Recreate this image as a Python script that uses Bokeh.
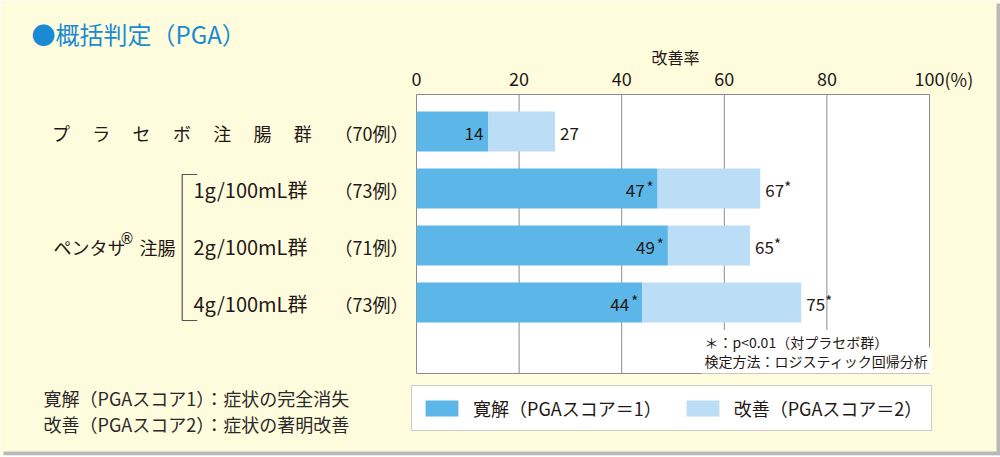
from bokeh.plotting import figure
from bokeh.models import ColumnDataSource, Range1d, Label, Legend, LegendItem
from bokeh.core.properties import value
from bokeh.embed import file_html
from bokeh.resources import INLINE

# ---------------- data ----------------
groups = ["プラセボ注腸群", "1g/100mL群", "2g/100mL群", "4g/100mL群"]
counts = ["（70例）", "（73例）", "（71例）", "（73例）"]
remission = [14, 47, 49, 44]        # 寛解 (PGA score = 1)
improvement = [27, 67, 65, 75]      # 改善 (PGA score <= 2), cumulative
significant = [False, True, True, True]
ticks = [0, 20, 40, 60, 80, 100]
tick_labels = ["0", "20", "40", "60", "80", "100"]
unit_label = "(%)"
series_names = ["寛解（PGAスコア＝1）", "改善（PGAスコア＝2）"]
drug_label = "ペンタサ"
drug_suffix = "注腸"
title_text = "●概括判定（PGA）"
axis_title = "改善率"
notes_in_plot = ["＊：p<0.01（対プラセボ群）", "検定方法：ロジスティック回帰分析"]
notes_left = ["寛解（PGAスコア1）：症状の完全消失", "改善（PGAスコア2）：症状の著明改善"]

# ---------------- style ----------------
FONT = "Noto Sans CJK JP"
BG = "#FFFCDD"
DARK = "#5DB6E8"
LIGHT = "#BBDDF5"
TEXT = "#231815"
TITLE_C = "#1A8BD3"
GRID = "#8c8c8c"
SHADOW = "#b9b9b9"
W, H = 1000, 457

# plotting box on screen: x 416..929 for 0..100, y 94..373 ; rows 57px apart
PX_PER_UNIT = (929 - 416) / 100.0
ROW_PX = 57.0
def X(sx):
    return (sx - 416) / PX_PER_UNIT
def Y(sy):
    return (sy - 131) / ROW_PX
BOX_TOP, BOX_BOTTOM = Y(94), Y(373)

rows = list(range(len(groups)))
src = ColumnDataSource(dict(
    row=rows,
    remission=remission,
    improvement=improvement,
    rem_label=[str(v) for v in remission],
    imp_label=[str(v) for v in improvement],
    star=["*" if s else "" for s in significant],
    rem_off=[-13 if s else -5 for s in significant],
))

p = figure(width=W, height=H, output_backend="svg", toolbar_location=None,
           x_range=Range1d(X(0), X(W)), y_range=Range1d(Y(H), Y(0)),
           x_axis_location=None, y_axis_location=None, min_border=0)
p.border_fill_color = BG
p.background_fill_color = BG
p.outline_line_color = None
p.xgrid.grid_line_color = None
p.ygrid.grid_line_color = None

# card shadow (right and bottom edges)
p.quad(left=[X(996), X(3)], right=[X(1000), X(1000)], top=[Y(3), Y(451)],
       bottom=[Y(455), Y(455)], fill_color=SHADOW, line_color=None)
p.quad(left=[X(0)], right=[X(1000)], top=[Y(455)], bottom=[Y(457)],
       fill_color="white", line_color=None)

# plotting box
p.quad(left=[ticks[0]], right=[ticks[-1]], top=[BOX_TOP], bottom=[BOX_BOTTOM],
       fill_color="white", line_color=GRID, line_width=1)
# vertical grid lines
inner = ticks[1:-1]
p.segment(x0=inner, x1=inner, y0=[BOX_TOP] * len(inner), y1=[BOX_BOTTOM] * len(inner),
          line_color=GRID, line_width=1)

# bars
r1 = p.hbar(y="row", left=0, right="remission", height=0.70, source=src,
            fill_color=DARK, line_color=None)
r2 = p.hbar(y="row", left="remission", right="improvement", height=0.70,
            source=src, fill_color=LIGHT, line_color=None)

common = dict(text_font=value(FONT), text_color=TEXT, text_baseline="middle", source=src)
p.text(x="remission", y="row", text="rem_label", x_offset="rem_off", y_offset=2,
       text_align="right", text_font_size="17px", **common)
p.text(x="remission", y="row", text="star", x_offset=-4, y_offset=-2,
       text_align="right", text_font_size="15px", **common)
p.text(x="improvement", y="row", text="imp_label", x_offset=5, y_offset=2,
       text_align="left", text_font_size="17px", **common)
p.text(x="improvement", y="row", text="star", x_offset=24, y_offset=-2,
       text_align="left", text_font_size="15px", **common)

# tick labels (top axis)
p.text(x=ticks, y=[Y(78.5)] * len(ticks), text=tick_labels, text_align="center",
       text_baseline="middle", text_font=value(FONT), text_font_size="18px",
       text_color=TEXT)

def lab(text, sx, sy, size, align="left", color=TEXT, bg=None, pad=0, font=FONT):
    p.add_layout(Label(x=X(sx), y=Y(sy), text=text, text_font=font,
                       text_font_size=f"{size}px", text_color=color,
                       text_align=align, text_baseline="middle",
                       background_fill_color=bg, padding=pad))

lab(unit_label, 944, 78.5, 18)
lab(axis_title, 675, 56.5, 16, align="center")
lab(title_text, 31, 33, 24, color=TITLE_C)

# row labels
row_sy = [131 + ROW_PX * i for i in rows]
for i, ch in enumerate(groups[0]):
    lab(ch, 60.5 + i * 40.3, row_sy[0] + 1, 18, align="center")
for i in rows[1:]:
    lab(groups[i], 193, row_sy[i] + 1, 20)
for i in rows:
    lab(counts[i], 408, row_sy[i] + 1, 18, align="right")

lab(drug_label, 53, 246, 18)
lab("®", 119, 238, 15, font="DejaVu Sans")
lab(drug_suffix, 139, 246, 18)

# bracket grouping the three doses
bx0, bx1, by0, by1 = X(181.7), X(196.7), Y(174), Y(320)
p.line(x=[bx1, bx0, bx0, bx1], y=[by0, by0, by1, by1], line_color="#555555",
       line_width=1.2)

# notes inside plot (second line first so the first stays on top)
lab(notes_in_plot[1], 701, 360, 14, bg="white", pad=3)
lab(notes_in_plot[0], 702, 341.5, 14, bg="white", pad=2)
# notes left
lab(notes_left[0], 43, 397.5, 18, color="#2a2a2a")
lab(notes_left[1], 43, 423, 18, color="#2a2a2a")

legend = Legend(items=[LegendItem(label=series_names[0], renderers=[r1]),
                       LegendItem(label=series_names[1], renderers=[r2])],
                orientation="horizontal", location=(411, H - 431),
                glyph_width=41, glyph_height=20, label_standoff=11, spacing=20,
                padding=9, margin=0, label_height=20,
                border_line_color="#999999", border_line_width=1,
                background_fill_color="white", background_fill_alpha=1,
                label_text_font=FONT, label_text_font_size="18px",
                label_text_color=TEXT)
p.add_layout(legend)

open("out.html", "w").write(file_html(p, INLINE))
